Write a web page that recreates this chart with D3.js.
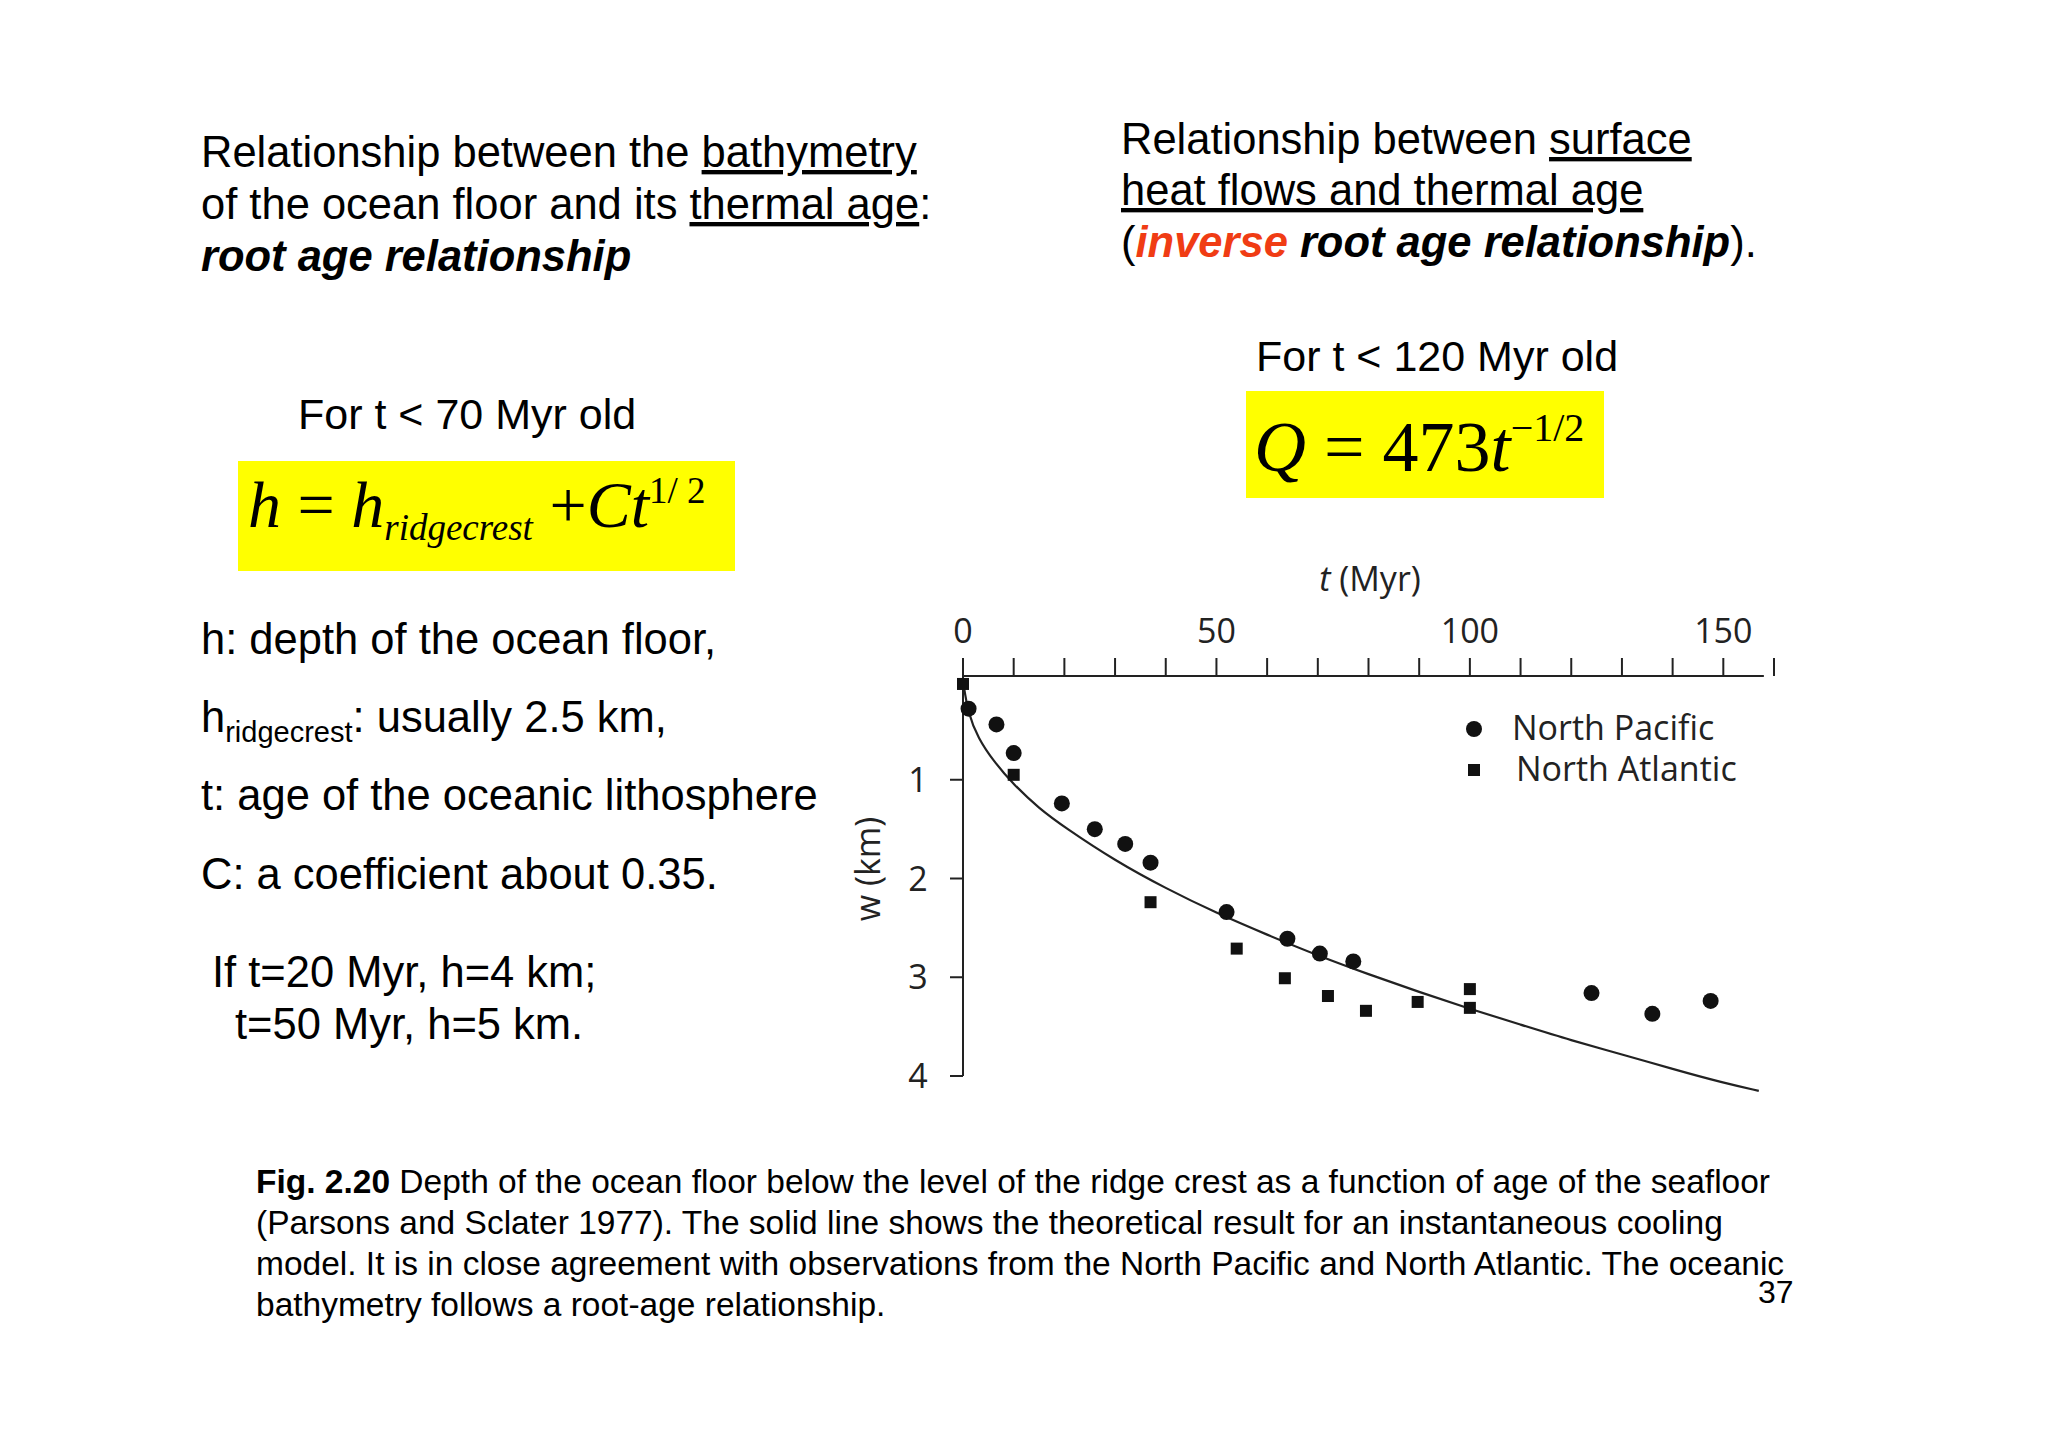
<!DOCTYPE html>
<html><head><meta charset="utf-8">
<script src="https://cdn.jsdelivr.net/npm/d3@7"></script>
<style>body{margin:0;background:#fff}</style>
</head><body><div id="chart"></div>
<script>
// data
const pacificT = [1.1, 6.6, 10, 19.5, 26, 32, 37, 52, 64, 70.4, 77, 124, 136, 147.5]
const pacificW = [0.28, 0.44, 0.73, 1.24, 1.5, 1.65, 1.84, 2.34, 2.61, 2.76, 2.84, 3.16, 3.37, 3.24]
const atlanticT = [0, 10, 37, 54, 63.5, 72, 79.5, 89.7, 100, 100]
const atlanticW = [0.03, 0.95, 2.24, 2.71, 3.01, 3.19, 3.34, 3.25, 3.12, 3.31]
const curveT = [0, 1, 3, 6, 10, 15, 20, 30, 40, 50, 60, 70, 80, 90, 100, 110, 120, 130, 140, 150, 157]
const curveW = [0, 0.33, 0.58, 0.81, 1.05, 1.29, 1.48, 1.82, 2.1, 2.35, 2.57, 2.78, 2.97, 3.15, 3.32, 3.48, 3.64, 3.78, 3.93, 4.07, 4.15]
const xTicks = d3.range(0, 161, 10)
const xLabels = [0, 50, 100, 150]
const yTicks = [1, 2, 3, 4]

const width = 2048, height = 1448
const svg = d3.select('#chart').append('svg').attr('width', width).attr('height', height)
  .style('font-family', '"Liberation Sans", Arial, sans-serif')

const x = d3.scaleLinear().domain([0, 160]).range([963, 1774])
const y = d3.scaleLinear().domain([0, 4]).range([681, 1076])
const axisY = 676

function txt(xp, yp, size, parts, opts = {}) {
  const t = svg.append('text').attr('x', xp).attr('y', yp).attr('font-size', size)
  if (opts.family) t.attr('font-family', opts.family)
  if (opts.anchor) t.attr('text-anchor', opts.anchor)
  parts.forEach(p => {
    const s = t.append('tspan').text(p.t)
    if (p.u) s.attr('text-decoration', 'underline')
    if (p.b) s.attr('font-weight', 'bold')
    if (p.i) s.attr('font-style', 'italic')
    if (p.c) s.attr('fill', p.c)
    if (p.dy) s.attr('dy', p.dy)
    if (p.fs) s.attr('font-size', p.fs)
  })
  return t
}

// left text block
txt(201, 167, 43.5, [{t: 'Relationship between the '}, {t: 'bathymetry', u: 1}])
txt(201, 219, 43.5, [{t: 'of the ocean floor and its '}, {t: 'thermal age', u: 1}, {t: ':'}])
txt(201, 271, 43.5, [{t: 'root age relationship', b: 1, i: 1}])
txt(1121, 154, 43.5, [{t: 'Relationship between '}, {t: 'surface', u: 1}])
txt(1121, 205, 43.5, [{t: 'heat flows and thermal age', u: 1}])
txt(1121, 257, 43.5, [{t: '('}, {t: 'inverse', b: 1, i: 1, c: '#f03c14'}, {t: ' root age relationship', b: 1, i: 1}, {t: ').'}])

txt(1256, 371, 43, [{t: 'For t < 120 Myr old'}])
svg.append('rect').attr('x', 1246).attr('y', 391).attr('width', 358).attr('height', 107).attr('fill', '#ffff00')
txt(1254, 471, 72, [{t: 'Q', i: 1}, {t: ' = 473'}, {t: 't', i: 1}, {t: '−1/2', fs: 40, dy: -30}], {family: '"Liberation Serif", serif'})

txt(298, 429, 43, [{t: 'For t < 70 Myr old'}])
svg.append('rect').attr('x', 238).attr('y', 461).attr('width', 497).attr('height', 110).attr('fill', '#ffff00')
txt(248, 527, 66, [{t: 'h', i: 1}, {t: ' = '}, {t: 'h', i: 1}, {t: 'ridgecrest', i: 1, fs: 37, dy: 13}, {t: ' +', dy: -13}, {t: 'Ct', i: 1}, {t: '1/ 2', fs: 37, dy: -24}], {family: '"Liberation Serif", serif'})

txt(201, 654, 43.5, [{t: 'h: depth of the ocean floor,'}])
txt(201, 732, 43.5, [{t: 'h'}, {t: 'ridgecrest', fs: 29, dy: 10}, {t: ': usually 2.5 km,', dy: -10}])
txt(201, 810, 43.5, [{t: 't: age of the oceanic lithosphere'}])
txt(201, 889, 43.5, [{t: 'C: a coefficient about 0.35.'}])
txt(212, 987, 43.5, [{t: 'If t=20 Myr, h=4 km;'}])
txt(235, 1039, 43.5, [{t: 't=50 Myr, h=5 km.'}])

// chart
const g = svg.append('g').style('font-family', '"Open Sans", sans-serif')
g.append('line').attr('x1', x(0)).attr('x2', x(158)).attr('y1', axisY).attr('y2', axisY).attr('stroke', '#222').attr('stroke-width', 2)
g.selectAll('.xt').data(xTicks).join('line').attr('x1', d => x(d)).attr('x2', d => x(d))
  .attr('y1', axisY).attr('y2', axisY - 18).attr('stroke', '#222').attr('stroke-width', 2)
g.selectAll('.xl').data(xLabels).join('text').attr('x', d => x(d)).attr('y', 643)
  .attr('text-anchor', 'middle').attr('font-size', 34).attr('fill', '#222').text(d => d)
g.append('text').attr('x', 1370).attr('y', 591).attr('text-anchor', 'middle').attr('font-size', 34).attr('fill', '#222')
  .html('<tspan font-style="italic">t</tspan> (Myr)')
g.append('line').attr('x1', x(0)).attr('x2', x(0)).attr('y1', axisY).attr('y2', y(4)).attr('stroke', '#222').attr('stroke-width', 2)
g.selectAll('.yt').data(yTicks).join('line').attr('x1', x(0) - 13).attr('x2', x(0))
  .attr('y1', d => y(d)).attr('y2', d => y(d)).attr('stroke', '#222').attr('stroke-width', 2)
g.selectAll('.yl').data(yTicks).join('text').attr('x', 918).attr('y', d => y(d) + 12)
  .attr('text-anchor', 'middle').attr('font-size', 34).attr('fill', '#222').text(d => d)
g.append('text').attr('transform', 'translate(880,869) rotate(-90)').attr('text-anchor', 'middle')
  .attr('font-size', 34).attr('fill', '#222').text('w (km)')

g.append('path').datum(d3.zip(curveT, curveW)).attr('fill', 'none').attr('stroke', '#222').attr('stroke-width', 2.2)
  .attr('d', d3.line().x(d => x(d[0])).y(d => y(d[1])).curve(d3.curveBasis))
g.selectAll('.pc').data(d3.zip(pacificT, pacificW)).join('circle')
  .attr('cx', d => x(d[0])).attr('cy', d => y(d[1])).attr('r', 8).attr('fill', '#111')
g.selectAll('.at').data(d3.zip(atlanticT, atlanticW)).join('rect')
  .attr('x', d => x(d[0]) - 6).attr('y', d => y(d[1]) - 6).attr('width', 12).attr('height', 12).attr('fill', '#111')

g.append('circle').attr('cx', 1474).attr('cy', 729).attr('r', 8).attr('fill', '#111')
g.append('text').attr('x', 1512).attr('y', 740).attr('font-size', 34).attr('fill', '#222').text('North Pacific')
g.append('rect').attr('x', 1468).attr('y', 764).attr('width', 12).attr('height', 12).attr('fill', '#111')
g.append('text').attr('x', 1516).attr('y', 781).attr('font-size', 34).attr('fill', '#222').text('North Atlantic')

// caption
const cap = [
  [{t: 'Fig. 2.20', b: 1}, {t: ' Depth of the ocean floor below the level of the ridge crest as a function of age of the seafloor'}],
  [{t: '(Parsons and Sclater 1977). The solid line shows the theoretical result for an instantaneous cooling'}],
  [{t: 'model. It is in close agreement with observations from the North Pacific and North Atlantic. The oceanic'}],
  [{t: 'bathymetry follows a root-age relationship.'}]
]
cap.forEach((p, i) => txt(256, 1193 + i * 41, 33.5, p))
txt(1758, 1303, 32, [{t: '37'}])
</script></body></html>
